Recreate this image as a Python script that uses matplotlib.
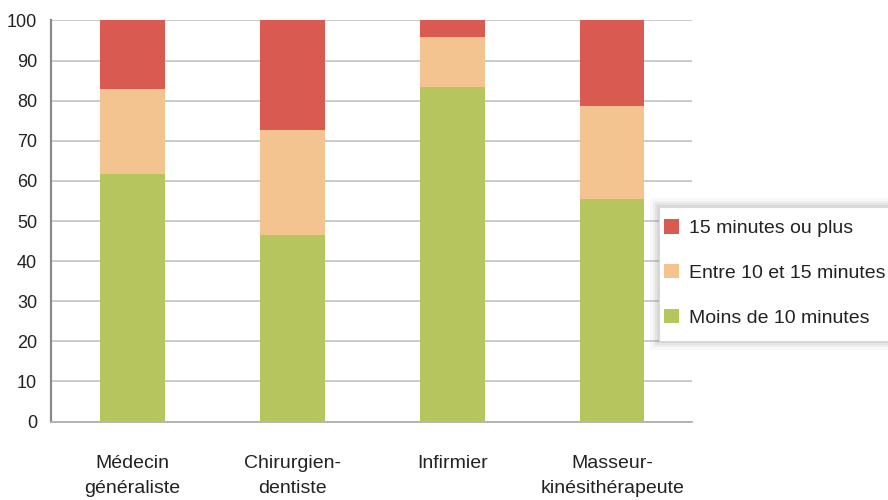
import matplotlib
matplotlib.use("Agg")
import matplotlib.pyplot as plt
from matplotlib.patches import Rectangle
import numpy as np

plt.rcParams['font.family'] = ['Liberation Sans', 'DejaVu Sans']

categories = ["Médecin\ngénéraliste", "Chirurgien-\ndentiste", "Infirmier", "Masseur-\nkinésithérapeute"]
moins_10 = [61.7, 46.4, 83.3, 55.6]
entre_10_15 = [21.3, 26.2, 12.7, 23.2]
plus_15 = [17.0, 27.4, 4.0, 21.2]

series_labels = ["Moins de 10 minutes", "Entre 10 et 15 minutes", "15 minutes ou plus"]
colors = ["#B7C65C", "#F4C490", "#D95A51"]

W, H = 888, 500
fig = plt.figure(figsize=(W / 100, H / 100), dpi=100)
ax = fig.add_axes([51 / W, (H - 421.5) / H, (692 - 51) / W, (421.5 - 20.5) / H])

x = np.arange(len(categories))
bottom = np.zeros(len(categories))
handles = []
for vals, lab, col in zip([moins_10, entre_10_15, plus_15], series_labels, colors):
    b = ax.bar(x, vals, width=0.405, bottom=bottom, color=col, label=lab, zorder=3)
    handles.append(b)
    bottom += np.array(vals)

ax.set_xlim(-0.51, 3.5)
ax.set_ylim(0, 100)
ax.set_yticks(range(0, 101, 10))
ax.grid(axis="y", color="#c8c8c8", linewidth=1.3, zorder=0)
ax.set_axisbelow(True)

for s in ["top", "right"]:
    ax.spines[s].set_visible(False)
ax.spines["left"].set_color("#8a8a8a")
ax.spines["left"].set_linewidth(1.6)
ax.spines["bottom"].set_color("#b0b0b0")
ax.spines["bottom"].set_linewidth(1.3)

ax.set_xticks(x)
ax.set_xticklabels(categories, fontsize=14, color="#222222", linespacing=1.6)
ax.tick_params(axis="x", length=0, pad=24)
ax.tick_params(axis="y", length=0, pad=10, labelsize=13, labelcolor="#222222")

# legend frame with a soft shadow, drawn in figure pixels
bx0, by0, bx1, by1 = 659, 207, 900, 341
for grow, alpha in [(9, 0.05), (6, 0.07), (4, 0.09), (2, 0.12)]:
    fig.patches.append(Rectangle(((bx0 - grow) / W, 1 - (by1 + grow) / H),
                                 (bx1 - bx0 + 2 * grow) / W, (by1 - by0 + 2 * grow) / H,
                                 transform=fig.transFigure, facecolor="#808080",
                                 edgecolor="none", alpha=alpha, zorder=1))
fig.patches.append(Rectangle((bx0 / W, 1 - by1 / H), (bx1 - bx0) / W, (by1 - by0) / H,
                             transform=fig.transFigure, facecolor="white",
                             edgecolor="#d8d8d8", linewidth=0.8, zorder=2))

leg = fig.legend(handles[::-1], series_labels[::-1],
                 loc="center left", bbox_to_anchor=(664 / W, 1 - 273 / H),
                 fontsize=14, frameon=False,
                 handlelength=0.77, handleheight=0.77, handletextpad=0.52,
                 labelspacing=1.38, borderpad=0, borderaxespad=0)
leg.set_zorder(3)
for t in leg.get_texts():
    t.set_color("#222222")

fig.savefig("out.png", dpi=100)
